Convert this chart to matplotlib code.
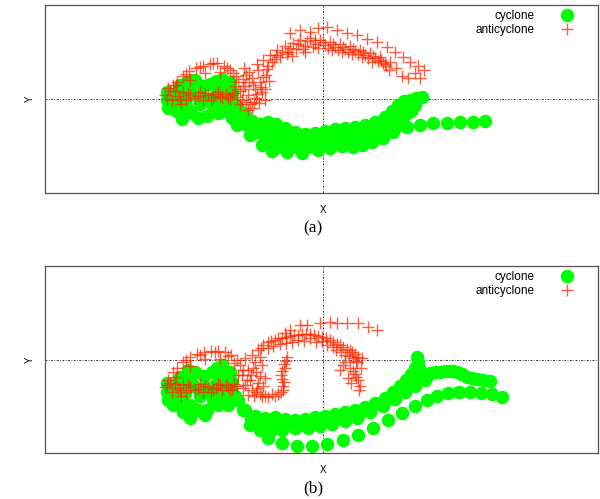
import matplotlib
matplotlib.use("Agg")
import matplotlib.pyplot as plt

# ---------------- data (panel a) ----------------
cyc_a_x = [-156,-156,-155,-148,-148,-145,-140,-138,-136,-133,-133,-125,-126,-123,-120,-113,-110,-107,-105,-101,-98,-95,-91,-88,-141,-116,-105,-95,-143,-128,-113,-93,
           -150,-144,-118,-108,-100,-92,-104,-150,-137,
           -85,-78,-71,-63,-55,-47,-38,-28,-18,-8,2,12,22,32,42,52,62,69,75,81,87,93,99,
           -80,-72,-62,-52,-42,-33,-23,-13,-3,7,17,27,37,47,57,66,73,80,86,90,
           -83,-75,-67,-58,-48,-38,-28,-18,-8,2,12,22,32,42,52,62,72,79,85,
           -56,-44,-31,-13,0,13,25,35,45,55,65,74,
           -61,-51,-36,-21,-5,7,19,30,39,49,60,70,77,
           -91,-86,-73,82,88,92,78,70,
           84,97,110,124,137,150,162]
cyc_a_y = [7,-1,-9,4,-4,-13,7,-1,17,11,-13,-19,3,-5,13,-1,-7,18,9,20,4,-4,7,-5,-20,-17,-14,-13,14,19,15,17,
           0,10,0,3,12,0,-6,-10,-7,
           -9,-16,-22,-25,-23,-25,-29,-33,-35,-34,-32,-30,-29,-28,-26,-23,-18,-12,-6,-2,-1,1,2,
           -14,-28,-31,-32,-35,-38,-38,-38,-36,-35,-34,-33,-31,-29,-26,-21,-16,-10,-5,-3,
           -19,-27,-33,-38,-41,-43,-44,-42,-41,-40,-39,-38,-37,-35,-32,-28,-22,-14,-8,
           -43,-47,-48,-47,-45,-44,-43,-42,-39,-36,-32,-27,
           -46,-52,-53,-54,-51,-49,-47,-48,-46,-43,-39,-33,-25,
           -19,-26,-36,-16,-12,-6,-20,-26,
           -28,-26,-24,-24,-23,-23,-22]

anti_a_x = [-158,-153,-151,-145,-140,-137,-133,-128,-123,-120,-115,-110,-105,-101,-97,-93,-89,-147,-155,-142,
            -156,-148,-143,-135,-125,-118,-112,-108,-103,-95,-91,-86,
            -146,-140,-134,-127,-120,-113,-106,-99,-93,-87,-133,-118,-103,-150,-137,-123,-110,-96,-90,
            -85,-83,-81,-78,-75,-73,-71,-68,-67,-65,-63,-61,-77,-79,-71,-58,-57,-55,-60,-66,-88,-83,-75,
            -80,-74,-70,-66,-62,-60,-56,-64,-69,-77,-80,-74,-58,-54,
            -53,-51,-46,-43,-38,-35,-30,-27,-23,-18,-13,-8,-3,2,7,12,17,22,27,32,37,42,47,52,57,60,63,66,49,39,29,19,9,-5,-18,-31,
            -49,-41,-33,-25,-16,-8,0,10,20,30,40,50,58,62,-47,-36,-20,-10,5,15,25,35,45,55,
            -33,-23,-13,-5,4,14,24,34,44,54,64,72,80,87,95,101,92,85,79,97,73,67]
anti_a_y = [4,8,-1,3,7,-1,4,1,7,-1,4,2,7,1,5,0,6,14,11,-5,
            0,8,0,6,3,6,-1,5,3,2,4,2,
            17,23,28,31,33,35,36,33,29,23,19,26,27,14,25,32,36,31,26,
            17,8,-1,13,4,-5,21,10,1,29,17,7,24,31,-9,-1,24,33,39,35,13,-5,-11,
            20,17,14,5,12,22,30,-4,-3,-3,10,27,10,18,
            44,37,49,42,53,47,56,50,59,53,61,55,59,54,57,52,55,50,53,48,49,44,46,41,42,36,33,29,37,42,45,47,49,51,47,43,
            40,47,51,55,58,59,57,55,52,50,47,43,39,35,44,45,50,52,51,49,47,45,41,38,
            66,69,67,71,72,69,66,64,60,57,52,47,42,37,33,29,26,21,23,21,31,37]

# ---------------- data (panel b) ----------------
cyc_b_x = [-156,-156,-155,-148,-148,-145,-140,-138,-135,-133,-133,-125,-126,-123,-119,-113,-110,-106,-104,-101,-98,-95,-91,-88,-140,-116,-105,-95,-143,-128,-111,-93,-133,-118,
           -150,-144,-130,-118,-108,-100,-92,-104,-150,-137,
           -85,-78,-68,-58,-48,-38,-28,-18,-8,2,12,22,32,42,52,62,70,77,83,88,92,95,94,
           -80,-72,-63,-53,-43,-33,-23,-13,-3,7,17,27,37,47,57,66,74,80,86,92,97,100,
           -73,-63,-53,-41,-28,-15,-3,9,22,34,47,60,72,82,92,102,
           100,105,112,122,130,139,149,160,
           107,117,127,134,144,154,167,
           -55,-41,-26,-11,4,20,35,50,65,79,92,104,114,125,136,147,158,169,179]
cyc_b_y = [-23,-32,-40,-26,-35,-45,-25,-33,-10,-18,-45,-50,-28,-36,-16,-32,-40,-8,-18,-5,-26,-35,-22,-36,-52,-50,-45,-45,-17,-12,-12,-12,-58,-55,
           -28,-20,-25,-28,-25,-15,-30,-35,-45,-45,
           -40,-50,-56,-58,-57,-59,-60,-59,-57,-56,-54,-52,-50,-47,-43,-38,-32,-26,-20,-14,-8,-2,3,
           -50,-60,-63,-64,-64,-64,-64,-63,-61,-60,-58,-55,-53,-49,-44,-38,-32,-26,-20,-14,-10,-14,
           -65,-70,-72,-70,-68,-68,-66,-64,-61,-58,-52,-46,-39,-32,-26,-20,
           -17,-15,-12,-11,-11,-14,-18,-20,
           -13,-12,-11,-12,-17,-19,-21,
           -78,-83,-86,-86,-84,-80,-75,-68,-60,-53,-46,-40,-36,-33,-32,-32,-33,-34,-37]

anti_b_x = [-158,-153,-151,-145,-140,-137,-133,-128,-123,-120,-115,-110,-105,-101,-97,-93,-89,-147,-155,-142,
            -156,-148,-143,-135,-125,-118,-112,-107,-103,-95,-91,-86,
            -146,-140,-133,-126,-119,-112,-105,-98,-92,-86,-133,-118,-103,-150,-137,-123,-108,-95,-89,
            -83,-81,-78,-75,-73,-71,-68,-67,-65,-63,-61,-58,-75,-78,-71,
            -80,-76,-70,-66,-63,-60,-72,-85,-80,-69,
            -67,-61,-55,-48,-42,-40,-41,-41,-39,-36,-51,-58,-45,-40,-39,-42,-38,-37,
            -65,-60,-55,-48,-41,-33,-25,-17,-9,-1,7,14,20,27,32,-55,-43,-31,-19,-7,4,13,22,30,-63,
            -62,-52,-45,-37,-29,-21,-13,-5,3,10,17,24,29,35,-50,-37,-25,-13,-1,10,18,26,33,
            22,27,32,35,37,25,17,34,39,20,30,33,28,36,38,
            -23,-16,-3,7,14,24,35,45,54,-33,-38]
anti_b_y = [-27,-23,-32,-28,-24,-32,-27,-30,-24,-32,-27,-29,-24,-30,-25,-30,-24,-17,-20,-36,
            -25,-24,-30,-25,-29,-26,-32,-28,-25,-27,-29,-26,
            -8,-2,3,6,8,9,9,8,5,0,-6,1,1,-12,0,5,8,4,-3,
            -5,-15,-25,-10,-20,-30,-2,-12,-23,-34,-5,-18,-35,2,5,
            -10,-20,-8,-28,-16,-26,-15,-15,-28,-36,
            -32,-36,-37,-36,-32,-26,-19,-11,-4,3,-34,-36,-34,-30,-22,-15,-8,-1,
            10,15,18,20,22,24,25,26,25,23,20,16,13,10,6,12,16,18,19,18,15,10,5,2,3,
            12,19,22,23,25,26,26,24,22,18,15,11,8,3,14,17,20,22,19,13,8,4,-1,
            -2,-8,-14,-20,-26,-18,-10,-2,2,-5,-11,-17,-23,-30,-8,
            35,35,37,38,37,37,37,33,30,30,27]

panel_labels = ["(a)", "(b)"]
series_labels = ["cyclone", "anticyclone"]

GREEN = "#00ff00"
RED = "#ff2800"

W, H = 600, 499
fig = plt.figure(figsize=(6.0, 4.99), dpi=100)

def fx(px):
    return px / W

def fy(py):
    return 1 - py / H

panels = [
    dict(top=5, bottom=193, cx=cyc_a_x, cy=cyc_a_y, ax_=anti_a_x, ay=anti_a_y, ylim=(-94, 94)),
    dict(top=266, bottom=453, cx=cyc_b_x, cy=cyc_b_y, ax_=anti_b_x, ay=anti_b_y, ylim=(-93, 94)),
]

for i, p in enumerate(panels):
    left, right = 45, 598
    ax = fig.add_axes([fx(left), fy(p["bottom"]), fx(right) - fx(left), fy(p["top"]) - fy(p["bottom"])])
    ax.set_xlim(-278, 275)
    ax.set_ylim(*p["ylim"])
    ax.set_xticks([])
    ax.set_yticks([])
    for s in ax.spines.values():
        s.set_color("#555555")
        s.set_linewidth(0.9)
    ax.axhline(0, color="#333333", lw=0.7, ls=(0, (2, 1.5, 0.8, 1.5)), zorder=1)
    ax.axvline(0, color="#333333", lw=0.7, ls=(0, (2, 1.5, 0.8, 1.5)), zorder=1)
    ax.plot(p["cx"], p["cy"], ls="none", marker="o", ms=8.7, color=GREEN, mec=GREEN,
            label=series_labels[0], zorder=2)
    ax.plot(p["ax_"], p["ay"], ls="none", marker="+", ms=9, mew=1.0, color=RED, alpha=0.75,
            label=series_labels[1], zorder=3)
    top = p["top"]
    ax.legend(loc="upper right", bbox_to_anchor=(fx(576), fy(top + 5)), bbox_transform=fig.transFigure,
              frameon=False, markerfirst=False, borderpad=0, borderaxespad=0,
              handlelength=1.5, handletextpad=2.0, labelspacing=0.2,
              prop=dict(family="Liberation Sans", size=8.5))
    ycross = p["top"] + (p["bottom"] - p["top"]) * (p["ylim"][1] / (p["ylim"][1] - p["ylim"][0]))
    fig.text(fx(30), fy(ycross), "Y", rotation=90, ha="center", va="center",
             family="Liberation Sans", fontsize=7)
    fig.text(fx(323), fy(p["bottom"] + 17), "X", ha="center", va="center",
             family="Liberation Sans", fontsize=7)
    fig.text(fx(313), fy(p["bottom"] + 35), panel_labels[i], ha="center", va="center",
             family="Liberation Serif", fontsize=12.5)

fig.savefig("out.png", dpi=100)
